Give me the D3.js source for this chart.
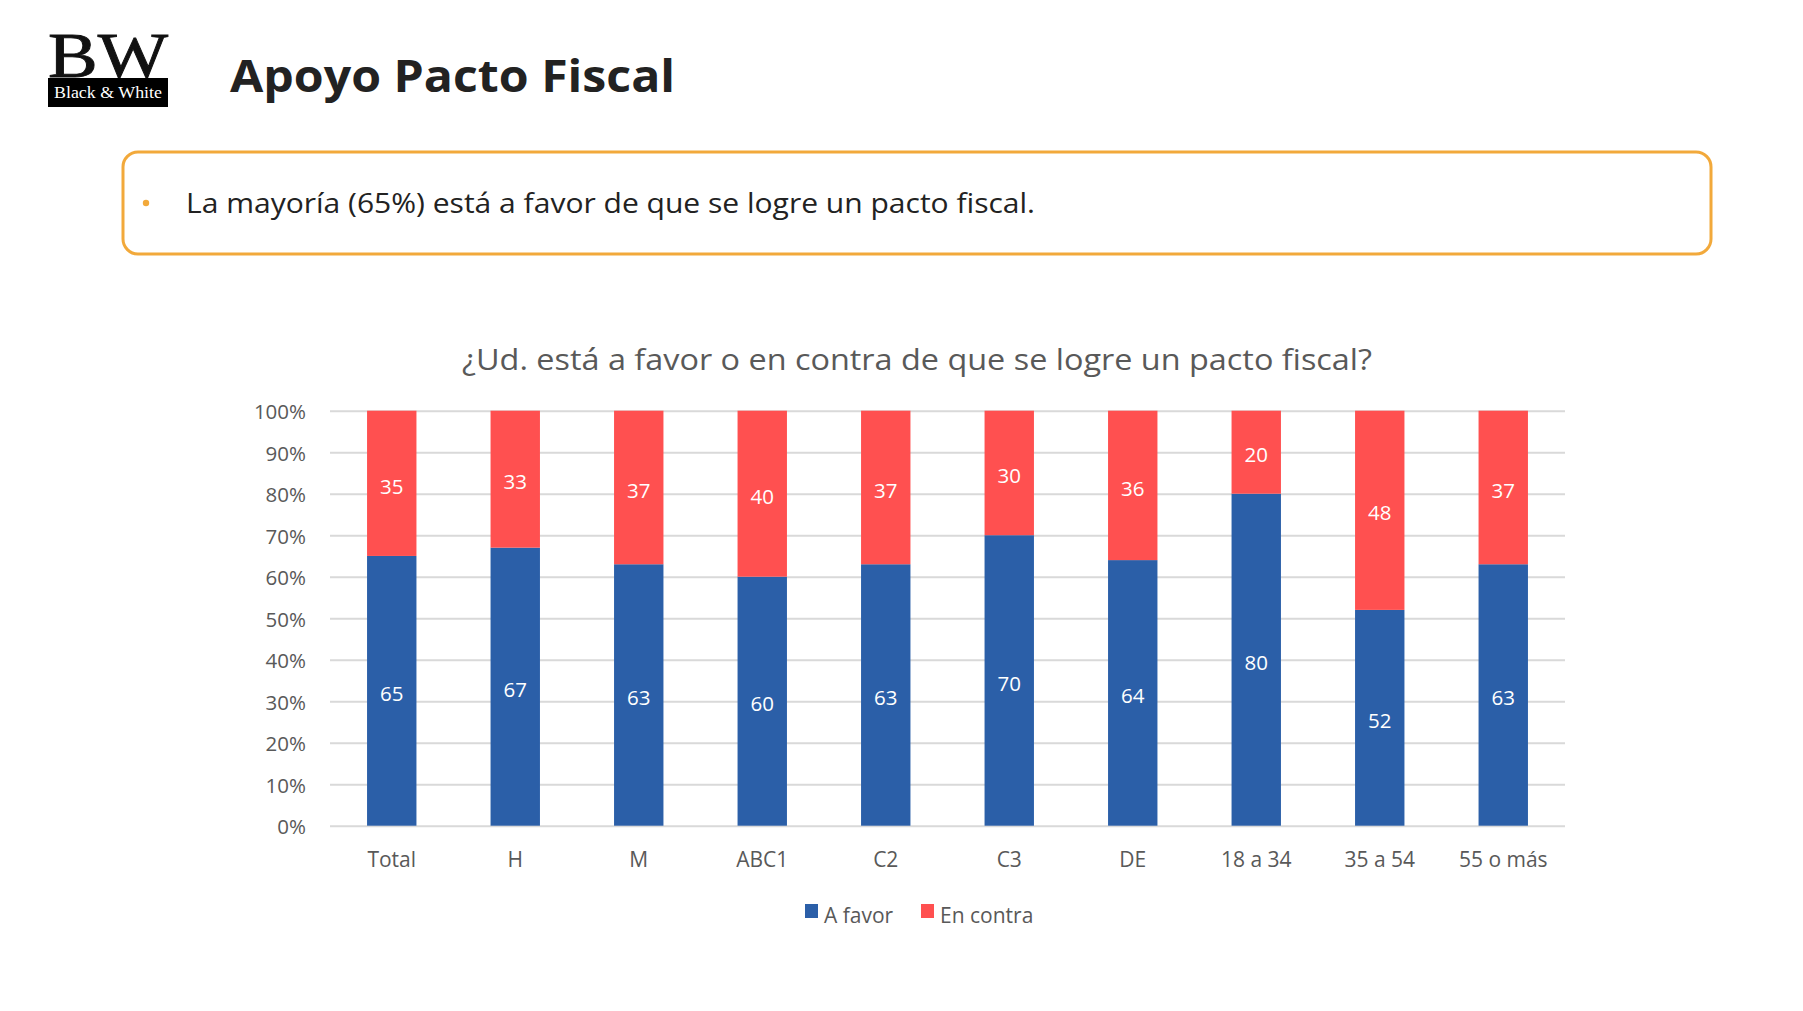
<!DOCTYPE html>
<html>
<head>
<meta charset="utf-8">
<script src="https://cdn.jsdelivr.net/npm/d3@7"></script>
<style>
  html, body { margin: 0; padding: 0; background: #fff; }
  svg { display: block; }
</style>
</head>
<body>
<svg id="chart" width="1803" height="1011"></svg>
<script>
const categories = ["Total", "H", "M", "ABC1", "C2", "C3", "DE", "18 a 34", "35 a 54", "55 o más"];
const aFavor   = [65, 67, 63, 60, 63, 70, 64, 80, 52, 63];
const enContra = [35, 33, 37, 40, 37, 30, 36, 20, 48, 37];
const seriesNames = ["A favor", "En contra"];
const yTicks = [0, 10, 20, 30, 40, 50, 60, 70, 80, 90, 100];

const pageTitle = "Apoyo Pacto Fiscal";
const bulletText = "La mayoría (65%) está a favor de que se logre un pacto fiscal.";
const chartTitle = "¿Ud. está a favor o en contra de que se logre un pacto fiscal?";

const colors = { "A favor": "#2B5FA8", "En contra": "#FF5050" };
const FONT = "'Open Sans', 'Noto Sans', sans-serif";
const GREY = "#595959";

const svg = d3.select("#chart");

// ---- Logo ----
const logo = svg.append("g");
logo.append("text")
  .attr("x", 48).attr("y", 77)
  .attr("font-family", "'Liberation Serif', 'DejaVu Serif', serif")
  .attr("font-size", 58)
  .attr("textLength", 120).attr("lengthAdjust", "spacingAndGlyphs")
  .attr("fill", "#111").attr("stroke", "#111").attr("stroke-width", 0.8)
  .attr("transform", "translate(0,77) scale(1,1.08) translate(0,-77)")
  .text("BW");
logo.append("rect")
  .attr("x", 48).attr("y", 78).attr("width", 120).attr("height", 29)
  .attr("fill", "#000");
logo.append("text")
  .attr("x", 108).attr("y", 98)
  .attr("text-anchor", "middle")
  .attr("font-family", "'Liberation Serif', 'DejaVu Serif', serif")
  .attr("font-size", 16)
  .attr("textLength", 108).attr("lengthAdjust", "spacingAndGlyphs")
  .attr("fill", "#fff")
  .text("Black & White");

// ---- Title ----
svg.append("text")
  .attr("x", 230).attr("y", 92)
  .attr("font-family", FONT).attr("font-weight", 700)
  .attr("font-size", 45)
  .attr("textLength", 445).attr("lengthAdjust", "spacingAndGlyphs")
  .attr("fill", "#222")
  .text(pageTitle);

// ---- Highlight box ----
svg.append("rect")
  .attr("x", 123).attr("y", 152).attr("width", 1588).attr("height", 102)
  .attr("rx", 15).attr("ry", 15)
  .attr("fill", "none").attr("stroke", "#F2A93B").attr("stroke-width", 3);
svg.append("circle").attr("cx", 146).attr("cy", 203).attr("r", 3.2).attr("fill", "#F2A93B");
svg.append("text")
  .attr("x", 186).attr("y", 213)
  .attr("font-family", FONT).attr("font-size", 28)
  .attr("textLength", 849).attr("lengthAdjust", "spacingAndGlyphs")
  .attr("fill", "#222")
  .text(bulletText);

// ---- Chart title ----
svg.append("text")
  .attr("x", 462).attr("y", 370)
  .attr("font-family", FONT).attr("font-size", 29)
  .attr("textLength", 910).attr("lengthAdjust", "spacingAndGlyphs")
  .attr("fill", GREY)
  .text(chartTitle);

// ---- Chart ----
const x = d3.scaleBand().domain(categories).range([330, 1565]).paddingInner(0.6).paddingOuter(0.3);
const y = d3.scaleLinear().domain([0, 100]).range([825.7, 410.7]);

const rows = categories.map((c, i) => ({ cat: c, "A favor": aFavor[i], "En contra": enContra[i] }));
const stacked = d3.stack().keys(seriesNames)(rows);

// gridlines + y labels
const yAxis = svg.append("g")
  .attr("transform", "translate(330,0)")
  .call(d3.axisLeft(y).tickValues(yTicks).tickSize(-(1565 - 330)).tickPadding(24).tickFormat(d => d + "%"));
yAxis.select(".domain").remove();
yAxis.selectAll(".tick line").attr("stroke", "#D9D9D9").attr("stroke-width", 2);
yAxis.selectAll(".tick text")
  .attr("font-family", FONT).attr("font-size", 20.5).attr("fill", GREY)
  .attr("dy", "0.4em");

// bars
const layers = svg.append("g").selectAll("g").data(stacked).join("g")
  .attr("fill", d => colors[d.key]);
layers.selectAll("rect").data(d => d).join("rect")
  .attr("x", d => x(d.data.cat))
  .attr("width", x.bandwidth())
  .attr("y", d => y(d[1]))
  .attr("height", d => y(d[0]) - y(d[1]));

// data labels
const labelLayers = svg.append("g").selectAll("g").data(stacked).join("g");
labelLayers.selectAll("text").data(d => d.map(v => ({ v, key: d.key }))).join("text")
  .attr("x", d => x(d.v.data.cat) + x.bandwidth() / 2)
  .attr("y", d => y((d.v[0] + d.v[1]) / 2) + 3)
  .attr("dy", "0.35em")
  .attr("text-anchor", "middle")
  .attr("font-family", FONT).attr("font-size", 20.5)
  .attr("fill", "#fff")
  .text(d => d.v.data[d.key]);

// x axis labels
const xAxis = svg.append("g")
  .attr("transform", "translate(0,825.7)")
  .call(d3.axisBottom(x).tickSize(0).tickPadding(26));
xAxis.select(".domain").remove();
xAxis.selectAll(".tick text")
  .attr("font-family", FONT).attr("font-size", 21).attr("fill", GREY);

// legend
const legendX = [805, 921];
const legend = svg.append("g").selectAll("g").data(seriesNames).join("g")
  .attr("transform", (d, i) => `translate(${legendX[i]},904)`);
legend.append("rect").attr("width", 13).attr("height", 14).attr("fill", d => colors[d]);
legend.append("text")
  .attr("x", 19).attr("y", 19)
  .attr("font-family", FONT).attr("font-size", 21).attr("fill", GREY)
  .text(d => d);
</script>
</body>
</html>
